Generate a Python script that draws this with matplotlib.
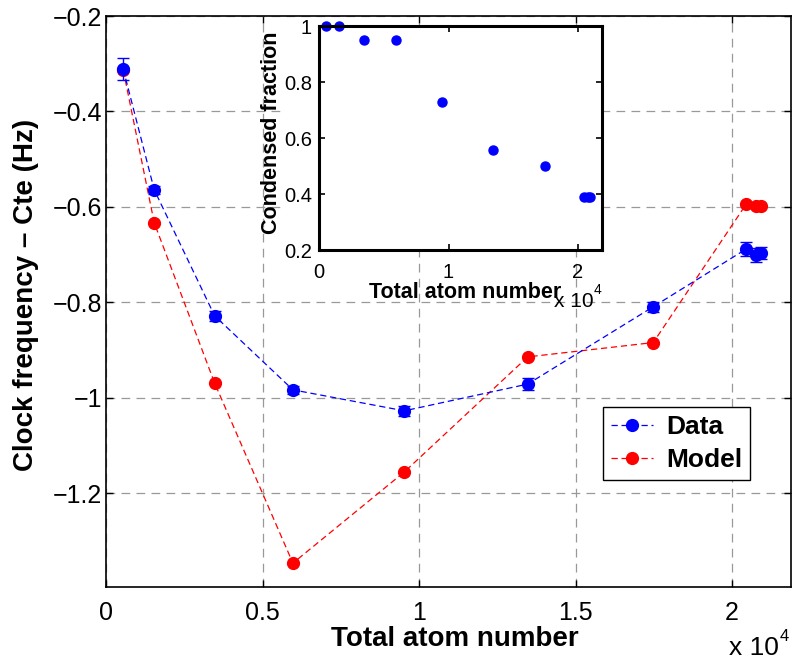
import matplotlib
matplotlib.use('Agg')
import matplotlib.pyplot as plt
from matplotlib.ticker import FuncFormatter
from matplotlib.patches import Rectangle

plt.rcParams['font.family'] = ['Liberation Sans', 'DejaVu Sans']

# data
atom_number = [550, 1540, 3470, 5970, 9530, 13470, 17480, 20450, 20770, 20920]
data_freq = [-0.311, -0.564, -0.828, -0.983, -1.027, -0.971, -0.809, -0.688, -0.700, -0.697]
data_err = [0.023, 0.008, 0.011, 0.009, 0.010, 0.012, 0.010, 0.014, 0.015, 0.013]
model_freq = [-0.313, -0.633, -0.969, -1.346, -1.155, -0.914, -0.884, -0.594, -0.597, -0.598]
condensed_frac = [1.0, 1.0, 0.95, 0.95, 0.73, 0.557, 0.50, 0.39, 0.39, 0.39]

main_xticks = [0, 5000, 10000, 15000, 20000]
main_yticks = [-1.2, -1.0, -0.8, -0.6, -0.4, -0.2]
inset_xticks = [0, 10000, 20000]
inset_yticks = [0.2, 0.4, 0.6, 0.8, 1.0]


def num_fmt(v, pos):
    return ('%g' % v).replace('-', '\u2212')


def e4_fmt(v, pos):
    return '%g' % (v / 1e4)


W, H = 793, 661
fig = plt.figure(figsize=(W / 100, H / 100), dpi=100)

# main axes
ax = fig.add_axes([106 / W, (H - 587) / H, 685 / W, 571 / H])
lm, = ax.plot(atom_number, model_freq, '--o', color='red', lw=0.9,
              dashes=(5, 3), ms=8.5)
eb = ax.errorbar(atom_number, data_freq, yerr=data_err, fmt='--o', color='blue',
                 lw=0.9, ms=8.5, capsize=4.5, elinewidth=1, capthick=1)
eb.lines[0].set_dashes((5, 3))

ax.set_xlim(0, 21880)
ax.set_ylim(-1.396, -0.2)
ax.set_xticks(main_xticks)
ax.set_yticks(main_yticks)
ax.xaxis.set_major_formatter(FuncFormatter(e4_fmt))
ax.yaxis.set_major_formatter(FuncFormatter(num_fmt))
ax.tick_params(direction='in', top=True, right=True, length=5, width=1,
               labelsize=18)
ax.tick_params(axis='x', pad=10)
ax.tick_params(axis='y', pad=3)
for s in ax.spines.values():
    s.set_linewidth(1.2)
ax.set_axisbelow(True)
ax.grid(True, color='#999999', linestyle=(0, (7, 5)), linewidth=0.9)

ax.set_xlabel('Total atom number', fontsize=20, fontweight='bold')
ax.xaxis.set_label_coords(0.509, -0.069)
ax.set_ylabel('Clock frequency \u2013 Cte (Hz)', fontsize=20, fontweight='bold')
ax.yaxis.set_label_coords(-0.098, 0.511)

leg = ax.legend([eb.lines[0], lm], ['Data', 'Model'], loc='upper left',
                bbox_to_anchor=(0.7255, 0.3152), borderaxespad=0,
                prop={'weight': 'bold', 'size': 19}, fancybox=False,
                edgecolor='black', framealpha=1, handlelength=1.6,
                handletextpad=0.5, labelspacing=0.35, borderpad=0.3)
leg.get_frame().set_linewidth(1)

fig.text(729 / W, 1 - 655 / H, 'x 10', fontsize=19, va='baseline')
fig.text(780 / W, 1 - 641 / H, '4', fontsize=12, va='baseline')

# white box behind the inset
ax.add_patch(Rectangle((285 / W, 1 - 250 / H), (602 - 285) / W, 224 / H,
                       transform=fig.transFigure, facecolor='white',
                       edgecolor='none', zorder=1.5, clip_on=False))

# inset
axin = fig.add_axes([319 / W, (H - 250) / H, 283 / W, 224 / H])
axin.plot(atom_number, condensed_frac, 'o', color='blue', ms=6.5, clip_on=False)
axin.set_xlim(0, 21850)
axin.set_ylim(0.2, 1.0)
axin.set_xticks(inset_xticks)
axin.set_yticks(inset_yticks)
axin.xaxis.set_major_formatter(FuncFormatter(e4_fmt))
axin.yaxis.set_major_formatter(FuncFormatter(num_fmt))
axin.tick_params(direction='in', top=True, right=True, length=4, width=1.2,
                 labelsize=14.5)
axin.tick_params(axis='x', pad=9)
axin.tick_params(axis='y', pad=5)
for s in axin.spines.values():
    s.set_linewidth(2.2)
axin.set_xlabel('Total atom number', fontsize=15.5, fontweight='bold')
axin.xaxis.set_label_coords(0.516, -0.143)
axin.set_ylabel('Condensed fraction', fontsize=15.5, fontweight='bold')
axin.yaxis.set_label_coords(-0.1325, 0.522)

fig.text(554 / W, 1 - 307 / H, 'x 10', fontsize=15, va='baseline')
fig.text(594 / W, 1 - 294 / H, '4', fontsize=10, va='baseline')

plt.savefig('out.png', dpi=100)
